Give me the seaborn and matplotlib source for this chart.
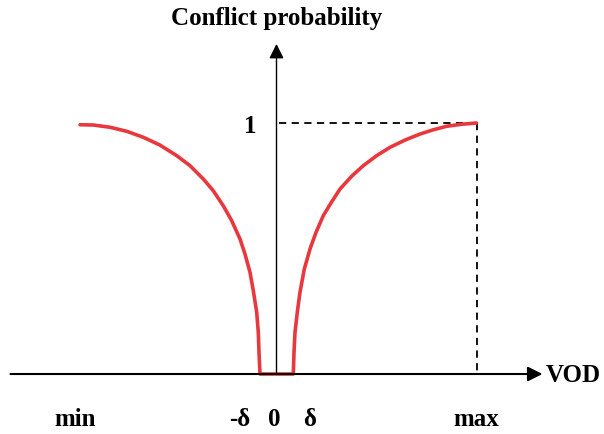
import matplotlib
matplotlib.use("Agg")
import matplotlib.pyplot as plt
import seaborn as sns
import pandas as pd

# curve (VOD in arbitrary units, max = 10)
left_vod = [-9.825, -9.16, -8.325, -7.49, -6.66, -5.825, -4.99, -4.325, -3.66, -3.16,
            -2.66, -2.24, -1.825, -1.575, -1.325, -1.16, -0.99, -0.91, -0.875, -0.825]
left_prob = [0.993, 0.992, 0.983, 0.967, 0.943, 0.912, 0.870, 0.830, 0.777, 0.730,
             0.670, 0.611, 0.538, 0.478, 0.405, 0.332, 0.246, 0.166, 0.086, 0.0]
right_vod = [0.84, 0.875, 0.925, 1.04, 1.175, 1.39, 1.675, 1.975, 2.34, 2.76, 3.175,
             3.76, 4.34, 5.01, 5.675, 6.425, 7.175, 7.84, 8.51, 9.26, 10.0]
right_prob = [0.0, 0.086, 0.166, 0.246, 0.326, 0.418, 0.498, 0.564, 0.631, 0.686, 0.737,
              0.788, 0.830, 0.870, 0.903, 0.932, 0.956, 0.973, 0.987, 0.995, 1.0]

tick_pos = [-10.08, -1.83, -0.125, 1.63, 9.98]
tick_labels = ["min", "-δ", "0", "δ", "max"]
vod_max = 10.0

sns.set_style("white")
plt.rcParams['font.family'] = ['Liberation Serif', 'DejaVu Serif']
plt.rcParams['text.color'] = 'black'

df = pd.DataFrame({"VOD": left_vod + right_vod, "prob": left_prob + right_prob})

fig = plt.figure(figsize=(6.04, 4.35), dpi=100)
ax = fig.add_axes([0, 0, 1, 1])
ax.set_xlim(-13.825, 16.375)
ax.set_ylim(-0.239, 1.494)
ax.axis("off")

# axes with arrows
ax.annotate("", xy=(13.3, 0), xytext=(-13.3, 0),
            arrowprops=dict(arrowstyle="-|>", color="black", lw=1.5, mutation_scale=22,
                            shrinkA=0, shrinkB=0))
ax.annotate("", xy=(0, 1.315), xytext=(0, 0),
            arrowprops=dict(arrowstyle="-|>", color="black", lw=1.0, mutation_scale=22,
                            shrinkA=0, shrinkB=0))

# dashed guides to (max, 1)
ax.plot([0.1, vod_max], [1, 1], color="black", lw=1.3, ls=(0, (4, 3)))
ax.plot([vod_max, vod_max], [1, 0], color="black", lw=1.3, ls=(0, (4, 3)))

sns.lineplot(data=df, x="VOD", y="prob", sort=False, color="#e8383d", lw=2.6, ax=ax,
             solid_joinstyle="round", solid_capstyle="round")

fs = 18
ax.text(0, 1.422, "Conflict probability", ha="center", va="center", fontsize=fs, fontweight="bold")
ax.text(13.45, 0, "VOD", ha="left", va="center", fontsize=fs, fontweight="bold")
ax.text(-1.33, 0.992, "1", ha="center", va="center", fontsize=fs, fontweight="bold")
for pos, lab in zip(tick_pos, tick_labels):
    ax.text(pos, -0.179, lab, ha="center", va="center", fontsize=fs, fontweight="bold")

plt.savefig("out.png", dpi=100)
